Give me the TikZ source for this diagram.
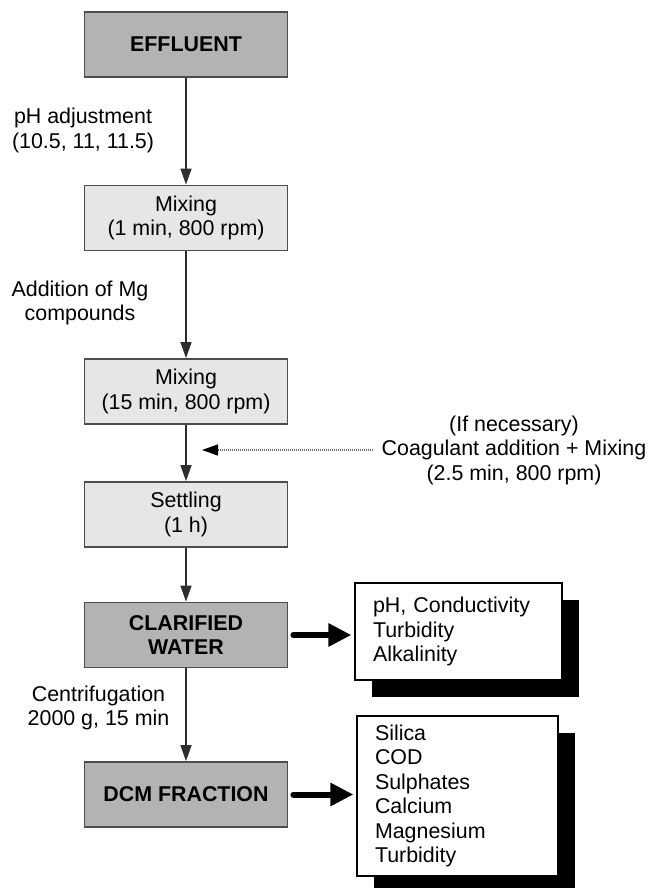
\documentclass[tikz,border=0pt]{standalone}
\usepackage{fontspec}
\setmainfont{Liberation Sans}
\usetikzlibrary{arrows.meta,shadows}
\definecolor{darkfill}{HTML}{B3B3B3}
\definecolor{lightfill}{HTML}{E6E6E6}
\definecolor{edge}{HTML}{4D4D4D}
\definecolor{flow}{HTML}{2E2E2E}
\begin{document}
\begin{tikzpicture}[x=1pt,y=-1pt,
  every node/.style={font=\fontsize{21.4}{24.5}\selectfont},
  stage/.style={draw=edge, line width=1.8pt, minimum width=203pt,
    minimum height=65pt, align=center, inner sep=0pt},
  keystage/.style={stage, fill=darkfill,
    font=\fontsize{21.4}{24.5}\selectfont\bfseries},
  stepstage/.style={stage, fill=lightfill},
  result/.style={draw=black, line width=1.2pt, fill=white, align=left,
    inner xsep=18pt, inner ysep=0pt,
    drop shadow={shadow xshift=17pt, shadow yshift=-17pt, opacity=1, fill=black}},
  flowarrow/.style={draw=flow, line width=1.4pt,
    -{Triangle[length=16pt,width=11pt]}},
  optarrow/.style={draw=flow!70, line width=1.4pt,
    dash pattern=on 1.2pt off 0.8pt,
    -{Triangle[length=16pt,width=11pt,color=black]}},
  outarrow/.style={draw=black, line width=6pt, line cap=round,
    -{Triangle[length=23pt,width=22pt]}},
  note/.style={align=center, inner sep=0pt}
]
\useasboundingbox (0,0) rectangle (649,888);

% main process chain
\node[keystage]  (eff)    at (186,44.5)  {EFFLUENT};
\node[stepstage] (mix1)   at (186,218)   {Mixing\\(1 min, 800 rpm)};
\node[stepstage] (mix2)   at (186,391.5) {Mixing\\(15 min, 800 rpm)};
\node[stepstage] (settle) at (186,514.5) {Settling\\(1 h)};
\node[keystage]  (clar)   at (186,635)   {CLARIFIED\\WATER};
\node[keystage]  (dcm)    at (186,794.5) {DCM FRACTION};

% analysis lists
\node[result, text width=171pt, minimum height=97pt] (res1) at (458.5,631.5)
  {pH, Conductivity\\Turbidity\\Alkalinity};
\node[result, text width=165pt, minimum height=160pt] (res2) at (457.5,796)
  {Silica\\COD\\Sulphates\\Calcium\\Magnesium\\Turbidity};

% step annotations
\node[note] (phlab)  at (83,130.5)  {pH adjustment\\(10.5, 11, 11.5)};
\node[note] (mglab)  at (80,303)    {Addition of Mg\\compounds};
\node[note] (cflab)  at (98.5,708)  {Centrifugation\\2000 g, 15 min};
\node[note] (coag)   at (514,450)   {(If necessary)\\Coagulant addition + Mixing\\(2.5 min, 800 rpm)};

% flow connectors
\draw[flowarrow] (eff)    -- (mix1);
\draw[flowarrow] (mix1)   -- (mix2);
\draw[flowarrow] (mix2)   -- (settle);
\draw[flowarrow] (settle) -- (clar);
\draw[flowarrow] (clar)   -- (dcm);

% optional coagulant feed
\coordinate (coagfeed) at (373,450);
\coordinate (coagjoin) at (202,450);
\draw[optarrow] (coagfeed) -- (coagjoin);

% outputs to analyses
\draw[outarrow, shorten <=5pt, shorten >=3pt] (clar.east) -- (clar.east -| res1.west);
\draw[outarrow, shorten <=5pt, shorten >=3pt] (dcm.east) -- (dcm.east -| res2.west);
\end{tikzpicture}
\end{document}
